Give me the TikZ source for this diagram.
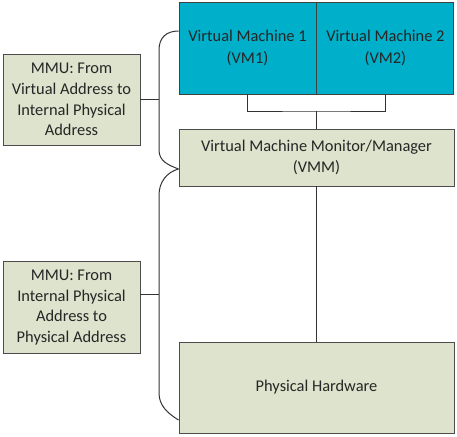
\documentclass[tikz,border=0pt]{standalone}
\usepackage{fontspec}
\setmainfont{Carlito}
\usetikzlibrary{positioning, calc}
\definecolor{vmteal}{HTML}{00AFC9}
\definecolor{hwgreen}{HTML}{DDE3CC}
\tikzset{
  vmbox/.style={
    rectangle, minimum width=102.75pt, minimum height=69pt, inner sep=2pt,
    align=center, text=black!85, draw=black!75, line width=0.7pt, fill=vmteal,
    font=\fontsize{12.3}{16}\selectfont
  },
  greenbox/.style={
    rectangle, inner sep=2pt, align=center, text=black!85,
    draw=black!70, line width=0.7pt, fill=hwgreen,
    font=\fontsize{12.3}{15.5}\selectfont
  },
  link/.style={
    draw=black!80, line width=0.75pt
  }
}
\begin{document}
\begin{tikzpicture}[x=0.75pt, y=-0.75pt]
\useasboundingbox (0,0) rectangle (457,436);
% guests
\node[vmbox] (vm1) at (247.5,48) {Virtual Machine 1\\(VM1)};
\node[vmbox, right=0pt of vm1] (vm2) {Virtual Machine 2\\(VM2)};
% monitor and hardware
\node[greenbox, minimum width=206.25pt, minimum height=42.75pt] (vmm) at (316.5,157.5)
  {Virtual Machine Monitor/Manager\\(VMM)};
\node[greenbox, minimum width=206.25pt, minimum height=68.25pt] (hw) at (316.5,387.5)
  {Physical Hardware};
% address translation
\node[greenbox, minimum width=102.75pt, minimum height=68.25pt] (mmu1) at (71.5,99.5)
  {MMU: From\\Virtual Address to\\Internal Physical\\Address};
\node[greenbox, minimum width=102.75pt, minimum height=69pt] (mmu2) at (71.5,307.5)
  {MMU: From\\Internal Physical\\Address to\\Physical Address};
% connectors
\coordinate (vmjoin) at (vmm.north |- 0,111);
\draw[link] (vm1.south) |- (vmjoin) -| (vm2.south);
\draw[link] (vmjoin) -- (vmm.north);
\draw[link] (vmm.south) -- (hw.north);
% braces
\coordinate (b1top) at (vm1.west |- 0,31);
\coordinate (bmid) at (vmm.west |- 0,169);
\coordinate (b2bot) at (hw.west |- 0,420);
\coordinate (b1tick) at (159,99.5);
\coordinate (b2tick) at (159,294);
\draw[link] (b1top) .. controls (166,31) and (159,38) .. (159,50)
  -- (159,150) .. controls (159,161) and (168,165) .. (bmid);
\draw[link] (bmid) .. controls (167,172) and (159,182) .. (159,195)
  -- (159,393) .. controls (159,405) and (167,413) .. (b2bot);
\draw[link] (mmu1.east) -- (b1tick);
\draw[link] (mmu2.east |- b2tick) -- (b2tick);
\end{tikzpicture}
\end{document}
